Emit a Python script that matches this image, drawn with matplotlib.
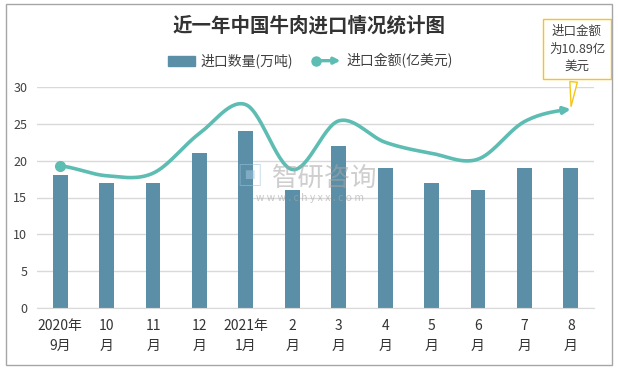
import numpy as np
import matplotlib
matplotlib.use("Agg")
import matplotlib.pyplot as plt
from matplotlib.patches import Rectangle, FancyArrowPatch, Circle
from matplotlib.lines import Line2D
from matplotlib.legend_handler import HandlerBase

plt.rcParams['font.family'] = ['Noto Sans CJK SC', 'DejaVu Sans']

categories = ["2020年\n9月", "10\n月", "11\n月", "12\n月", "2021年\n1月", "2\n月", "3\n月",
              "4\n月", "5\n月", "6\n月", "7\n月", "8\n月"]
volume = [18, 17, 17, 21, 24, 16, 22, 19, 17, 16, 19, 19]
amount = [19.3, 17.95, 18.3, 23.7, 27.6, 18.8, 25.4, 22.5, 21.0, 20.2, 25.3, 27.0]
yticks = [0, 5, 10, 15, 20, 25, 30]

bar_color = "#5b8fa7"
line_color = "#5dbdb3"


class ArrowLineHandler(HandlerBase):
    def create_artists(self, legend, orig_handle, xdescent, ydescent, width, height,
                       fontsize, trans):
        y = height / 2 - ydescent
        arr = FancyArrowPatch((-xdescent + 2, y), (-xdescent + width, y), arrowstyle='-|>',
                              mutation_scale=9, color=line_color, lw=2.4,
                              shrinkA=0, shrinkB=0, transform=trans)
        dot = Line2D([-xdescent + 2], [y], marker='o', ms=6.5, color=line_color,
                     linestyle='none', transform=trans)
        return [arr, dot]


fig = plt.figure(figsize=(6.18, 3.69), dpi=100)
fig.patches.append(Rectangle((6/618, 4/369), 606/618, 361/369, transform=fig.transFigure,
                             fill=False, edgecolor="#a6a6a6", lw=1.0))
ax = fig.add_axes([37/618, 61/369, 557/618, 221/369])
x = np.arange(len(categories))
ax.bar(x, volume, width=0.32, color=bar_color, zorder=2)

# smooth curve (Catmull-Rom) through the data points
pts = np.array(amount, dtype=float)
xs, ys = [], []
n = len(pts)
for i in range(n - 1):
    p0 = pts[i - 1] if i > 0 else pts[i]
    p1, p2 = pts[i], pts[i + 1]
    p3 = pts[i + 2] if i + 2 < n else pts[i + 1]
    t = np.linspace(0, 1, 30, endpoint=(i == n - 2))
    y = 0.5 * ((2 * p1) + (-p0 + p2) * t + (2 * p0 - 5 * p1 + 4 * p2 - p3) * t ** 2
               + (-p0 + 3 * p1 - 3 * p2 + p3) * t ** 3)
    xs.extend(i + t)
    ys.extend(y)
xs = np.array(xs); ys = np.array(ys)
ax.plot(xs[:-3], ys[:-3], color=line_color, lw=2.6, zorder=3, solid_capstyle='round')
ax.plot([x[0]], [amount[0]], 'o', color=line_color, ms=7, zorder=4)
ax.add_patch(FancyArrowPatch((xs[-6], ys[-6]), (x[-1], amount[-1]), arrowstyle='-|>',
                             mutation_scale=10, color=line_color, lw=2.6, zorder=4,
                             shrinkA=0, shrinkB=0))

ax.set_xlim(-0.5, 11.5)
ax.set_ylim(0, 30)
ax.set_yticks(yticks)
ax.set_xticks(x)
ax.set_xticklabels(categories, fontsize=10, color="#333333", linespacing=1.5)
ax.tick_params(axis='y', length=0, labelsize=9, colors="#404040", pad=7)
ax.tick_params(axis='x', length=0, pad=8)
ax.grid(axis='y', color="#d9d9d9", lw=1, zorder=0)
for s in ['left', 'right', 'top']:
    ax.spines[s].set_visible(False)
ax.spines['bottom'].set_color("#d9d9d9")

# watermark
fig.text(250/618, 1 - 178/369, "▣", fontsize=19, color="#9dc3dd", alpha=0.55, ha='center', va='center')
fig.text(325/618, 1 - 178/369, "智研咨询", fontsize=19, color="#a6a6a6", alpha=0.55, ha='center', va='center')
fig.text(310/618, 1 - 198/369, "w w w . c h y x x . c o m", fontsize=7.5, color="#a6a6a6", alpha=0.6,
         ha='center', va='center')

fig.text(0.5, 1 - 26/369, "近一年中国牛肉进口情况统计图", fontsize=14, fontweight='bold',
         color="#333333", ha='center', va='center')

handles = [Rectangle((0, 0), 1, 1, color=bar_color), Line2D([0], [0])]
fig.legend(handles, ["进口数量(万吨)", "进口金额(亿美元)"], loc='center',
           bbox_to_anchor=(310/618, 1 - 61/369), ncol=2, frameon=False, fontsize=10,
           handlelength=2.0, handletextpad=0.4, columnspacing=1.4, labelcolor="#404040",
           handler_map={Line2D: ArrowLineHandler()})

# callout annotation
ax.annotate("进口金额\n为10.89亿\n美元", xy=(x[-1], amount[-1]), xycoords='data',
            xytext=(577/618, 1 - 49/369), textcoords='figure fraction',
            ha='center', va='center', fontsize=9, color="#404040", linespacing=1.45,
            bbox=dict(boxstyle='square,pad=0.45', fc='white', ec='#f5c518', lw=1),
            arrowprops=dict(arrowstyle='wedge,tail_width=0.6', fc='white', ec='#f5c518', lw=1),
            zorder=10, annotation_clip=False)

fig.savefig("out.png", dpi=100)
